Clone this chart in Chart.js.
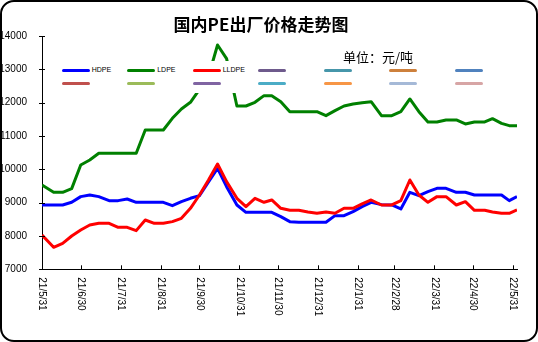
<!DOCTYPE html>
<html>
<head>
<meta charset="utf-8">
<script src="https://cdn.jsdelivr.net/npm/chart.js@4.4.1/dist/chart.umd.min.js"></script>
<style>
  html, body { margin: 0; padding: 0; background: #fff; }
  #wrap { position: relative; width: 538px; height: 342px; overflow: hidden; background: #fff; }
  #chart { position: absolute; left: 0; top: 0; }
  #frame { position: absolute; left: 0; top: 0; width: 538px; height: 342px; box-sizing: border-box;
           border: 2px solid #000; border-radius: 14px; pointer-events: none; }
  #title { position: absolute; left: 141px; width: 240px; top: 12px; text-align: center;
           font: bold 17px "Noto Sans CJK SC"; line-height: 24px; color: #000; white-space: nowrap; }
  #unit { position: absolute; left: 343px; top: 48px; font: 13px "Noto Sans CJK SC"; line-height: 18px;
          color: #000; white-space: nowrap; z-index: 2; }
  #legend { position: absolute; left: 55px; top: 61px; width: 455px; height: 32px; background: #fff; }
  #legend .item { position: absolute; height: 8px; }
  #legend .swatch { position: absolute; left: 0; top: 2.5px; width: 28px; height: 3px; border-radius: 1.5px; }
  #legend .label { position: absolute; left: 30px; top: 0; font: 7px "Liberation Sans"; line-height: 8px;
                   color: #000; white-space: nowrap; }
</style>
</head>
<body>
<div id="wrap">
  <canvas id="chart" width="538" height="342"></canvas>
  <div id="title">国内PE出厂价格走势图</div>
  <div id="legend"></div>
  <div id="unit">单位：元/吨</div>
  <div id="frame"></div>
</div>
<script>
// weekly quote dates
const dates = [
  '2021-05-31', '2021-06-09', '2021-06-16', '2021-06-23', '2021-06-30', '2021-07-07', '2021-07-14',
  '2021-07-22', '2021-07-29', '2021-08-05', '2021-08-12', '2021-08-19', '2021-08-26', '2021-09-02',
  '2021-09-09', '2021-09-16', '2021-09-23', '2021-09-30', '2021-10-07', '2021-10-14', '2021-10-21',
  '2021-10-29', '2021-11-05', '2021-11-12', '2021-11-19', '2021-11-25', '2021-12-02', '2021-12-09',
  '2021-12-16', '2021-12-23', '2021-12-30', '2022-01-06', '2022-01-13', '2022-01-20', '2022-01-27',
  '2022-02-03', '2022-02-10', '2022-02-18', '2022-02-26', '2022-03-05', '2022-03-12', '2022-03-19',
  '2022-03-26', '2022-04-02', '2022-04-09', '2022-04-17', '2022-04-24', '2022-05-01', '2022-05-09',
  '2022-05-15', '2022-05-22', '2022-05-28', '2022-06-03'
];

const hdpe = [
  8930, 8930, 8930, 9010, 9180, 9230, 9180, 9060, 9060, 9110,
  9010, 9010, 9010, 9010, 8910, 9030, 9130, 9210, 9620, 10030,
  9480, 8930, 8710, 8710, 8710, 8710, 8580, 8430, 8410, 8410,
  8410, 8410, 8610, 8610, 8730, 8880, 9010, 8940, 8930, 8810,
  9310, 9210, 9330, 9430, 9430, 9310, 9310, 9230, 9230, 9230,
  9230, 9060, 9180
];

const ldpe = [
  9530, 9310, 9310, 9420, 10130, 10280, 10480, 10480, 10480, 10480,
  10480, 11180, 11180, 11180, 11530, 11810, 12010, 12400, 12790, 13730,
  13320, 11900, 11900, 12010, 12210, 12210, 12030, 11730, 11730, 11730,
  11730, 11610, 11760, 11900, 11960, 12000, 12030, 11610, 11610, 11730,
  12110, 11730, 11420, 11420, 11480, 11480, 11360, 11420, 11420, 11520,
  11380, 11310, 11310
];

const lldpe = [
  8030, 7660, 7780, 8000, 8180, 8330, 8380, 8380, 8260, 8260,
  8160, 8480, 8380, 8380, 8430, 8530, 8830, 9230, 9680, 10160,
  9630, 9130, 8880, 9130, 9010, 9080, 8830, 8770, 8770, 8720,
  8680, 8720, 8680, 8830, 8830, 8960, 9080, 8930, 8930, 9060,
  9680, 9230, 9010, 9180, 9180, 8930, 9030, 8770, 8770, 8720,
  8680, 8680, 8780
];

const tickDates = [
  '2021-05-31', '2021-06-30', '2021-07-31', '2021-08-31', '2021-09-30', '2021-10-31', '2021-11-30',
  '2021-12-31', '2022-01-31', '2022-02-28', '2022-03-31', '2022-04-30', '2022-05-31'
];
const tickLabels = [
  '21/5/31', '21/6/30', '21/7/31', '21/8/31', '21/9/30', '21/10/31', '21/11/30',
  '21/12/31', '22/1/31', '22/2/28', '22/3/31', '22/4/30', '22/5/31'
];

// empty series that still show up in the legend
const emptySeriesColors = [
  '#6e5a8c', '#4696aa', '#cd803c', '#5082be',
  '#c0504d', '#9bbb59', '#8064a2', '#4bacc6', '#f79646', '#a5b9d7', '#d7a5a5'
];

const dayOf = d => Math.round((Date.parse(d) - Date.parse(dates[0])) / 86400000);
const points = values => values.map((v, i) => ({ x: dayOf(dates[i]), y: v }));

const axisMarks = {
  id: 'axisMarks',
  afterDraw(chart) {
    const { ctx, chartArea, scales: { x, y } } = chart;
    ctx.save();
    ctx.strokeStyle = '#000';
    ctx.lineWidth = 1;
    ctx.beginPath();
    y.ticks.forEach(t => {
      const py = Math.round(y.getPixelForValue(t.value)) + 0.5;
      ctx.moveTo(chartArea.left - 3, py);
      ctx.lineTo(chartArea.left + 3, py);
    });
    x.ticks.forEach(t => {
      const px = Math.round(x.getPixelForValue(t.value)) + 0.5;
      ctx.moveTo(px, chartArea.bottom);
      ctx.lineTo(px, chartArea.bottom - 4);
    });
    ctx.stroke();

    // x labels read top-to-bottom
    ctx.fillStyle = '#000';
    ctx.font = '10px "Liberation Sans"';
    ctx.textAlign = 'left';
    ctx.textBaseline = 'middle';
    x.ticks.forEach((t, i) => {
      ctx.save();
      ctx.translate(x.getPixelForValue(t.value), chartArea.bottom + 8);
      ctx.rotate(Math.PI / 2);
      ctx.fillText(tickLabels[i], 0, 0);
      ctx.restore();
    });
    ctx.restore();
  }
};

const datasets = [
  { label: 'HDPE', data: points(hdpe), borderColor: '#0000ff', order: 3 },
  { label: 'LDPE', data: points(ldpe), borderColor: '#008000', order: 2 },
  { label: 'LLDPE', data: points(lldpe), borderColor: '#ff0000', order: 1 }
].concat(emptySeriesColors.map(c => ({ label: '', data: [], borderColor: c })));

const chart = new Chart(document.getElementById('chart'), {
  type: 'line',
  data: { datasets },
  options: {
    responsive: false,
    animation: false,
    devicePixelRatio: 1,
    layout: { padding: { top: 36, right: 21, bottom: 72.7, left: 0 } },
    elements: {
      line: { borderWidth: 3, tension: 0, borderJoinStyle: 'round', fill: false },
      point: { radius: 0, hoverRadius: 0 }
    },
    plugins: { legend: { display: false }, tooltip: { enabled: false } },
    scales: {
      x: {
        type: 'linear',
        min: 0,
        max: dayOf(dates[dates.length - 1]),
        grid: { display: false },
        border: { display: true, color: '#000', width: 1 },
        ticks: { display: false },
        afterBuildTicks: scale => { scale.ticks = tickDates.map(d => ({ value: dayOf(d) })); },
        afterFit: scale => { scale.height = 0; }
      },
      y: {
        min: 7000,
        max: 14000,
        grid: { display: false },
        border: { display: true, color: '#000', width: 1 },
        ticks: {
          stepSize: 1000,
          padding: 7,
          color: '#000',
          font: { family: 'Liberation Sans', size: 10 },
          callback: v => String(v)
        },
        afterFit: scale => { scale.width = 42; }
      }
    }
  },
  plugins: [axisMarks]
});

// legend laid over the plot, two rows of seven
const legendBox = document.getElementById('legend');
chart.data.datasets.forEach((ds, i) => {
  const item = document.createElement('div');
  item.className = 'item';
  item.style.left = (6.7 + 65.5 * (i % 7)) + 'px';
  item.style.top = (5 + 13.7 * Math.floor(i / 7)) + 'px';
  const swatch = document.createElement('span');
  swatch.className = 'swatch';
  swatch.style.background = ds.borderColor;
  const label = document.createElement('span');
  label.className = 'label';
  label.textContent = ds.label;
  item.appendChild(swatch);
  item.appendChild(label);
  legendBox.appendChild(item);
});
</script>
</body>
</html>
